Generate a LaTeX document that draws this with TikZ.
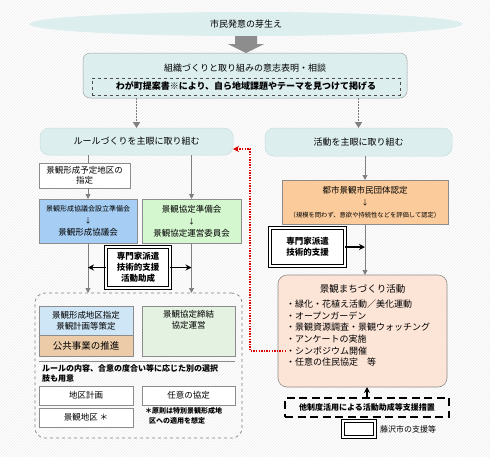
\documentclass[tikz,border=0pt]{standalone}
\usepackage{fontspec}
\setmainfont{Noto Sans CJK JP}
\usetikzlibrary{shapes.geometric,arrows.meta,patterns,calc}
\newcommand\fsz[2]{\fontsize{#1}{#2}\selectfont}
\definecolor{teal1}{HTML}{DCEEEE}
\definecolor{tealb}{HTML}{C9DEDE}
\definecolor{bgray}{HTML}{8C8C8C}
\definecolor{agray}{HTML}{808080}
\definecolor{blue1}{HTML}{A6CEF4}
\definecolor{green1}{HTML}{D4F7CF}
\definecolor{lblue}{HTML}{CFE6F7}
\definecolor{tan1}{HTML}{EBCBA8}
\definecolor{lgreen}{HTML}{E4F3E1}
\definecolor{orange1}{HTML}{FBCB9B}
\definecolor{peach}{HTML}{FCE4D6}
\begin{document}
\begin{tikzpicture}[x=1pt,y=-1pt,
  every node/.style={inner sep=0pt, outer sep=0pt},
  tealbox/.style={draw=tealb, fill=teal1, rounded corners=7pt, line width=0.5pt, align=center},
  plainbox/.style={draw=bgray, line width=0.6pt, fill=white, align=center},
  dblbox/.style={draw=black, double=white, double distance=1.3pt, line width=1.1pt, fill=white, align=center, font=\bfseries\fsz{8.5}{11}},
  garrow/.style={draw=agray, line width=0.9pt, -{Triangle[length=5pt,width=5pt]}},
  glink/.style={draw=agray, line width=0.9pt},
  darrow/.style={draw=agray, line width=1.6pt, dash pattern=on 1.6pt off 1.4pt, -{Triangle[length=6pt,width=7pt]}},
  barrow/.style={draw=black, line width=1.2pt, -{Stealth[length=6pt,width=6pt]}},
  redarrow/.style={draw=red!85!black, line width=1.5pt, dash pattern=on 1.5pt off 1.1pt, -{Stealth[length=6pt,width=6pt]}},
  txt/.style={align=left, anchor=west}
]
\useasboundingbox (0,0) rectangle (490,456);
\fill[white] (0,0) rectangle (490,456);
\fill[pattern=north east lines, pattern color=gray!14] (0,0) rectangle (490,456);

% top ellipse
\node[fill=teal1, ellipse, minimum width=433, minimum height=24, font=\fsz{9}{11}] (e) at (246,24) {市民発意の芽生え};
% big arrow
\fill[agray!90] ($(e.south)+(-11,0)$) -- ($(e.south)+(11,0)$) -- ($(e.south)+(11,8)$) -- ($(e.south)+(18,8)$) -- ($(e.south)+(0,17)$) -- ($(e.south)+(-18,8)$) -- ($(e.south)+(-11,8)$) -- cycle;

% box 2
\node[tealbox, draw=bgray!80, minimum width=324, minimum height=45] (b2) at (245,75.5) {};
\node[font=\fsz{9}{11}] (b2t) at (245,68) {組織づくりと取り組みの意志表明・相談};
\node[draw=black!70, dashed, line width=0.6pt, minimum width=308, minimum height=17, font=\bfseries\fsz{9}{11}] (b2d) at (246,86.5) {わが町提案書※により、自ら地域課題やテーマを見つけて掲げる};

% branches
\node[tealbox, rounded corners=9pt, minimum width=193, minimum height=27, font=\fsz{9}{11}] (lb) at (136.5,141.5) {ルールづくりを主眼に取り組む};
\node[tealbox, rounded corners=9pt, minimum width=187, minimum height=28, font=\fsz{9}{11}] (rb) at (358.5,142) {活動を主眼に取り組む};
\draw[darrow] (lb.north |- b2.south) -- (lb.north);
\draw[darrow] (rb.north |- b2.south) -- (rb.north);

% left column
\node[plainbox, minimum width=91, minimum height=25, font=\fsz{8.5}{10.5}] (sh) at (84.5,175.5) {景観形成予定地区の\\指定};
\node[plainbox, fill=blue1, minimum width=98, minimum height=44] (bl) at (88,221) {{\fsz{7}{9}景観形成協議会設立準備会}\\{\fsz{7}{9}↓}\\{\fsz{8.5}{11}景観形成協議会}};
\node[plainbox, fill=green1, minimum width=99, minimum height=44] (gr) at (191.5,221) {{\fsz{8.5}{11}景観協定準備会}\\{\fsz{7}{9}↓}\\{\fsz{8.5}{11}景観協定運営委員会}};
\draw[glink] (bl.north |- lb.south) -- (bl.north |- sh.north);
\draw[garrow] (bl.north |- sh.south) -- (bl.north);
\draw[garrow] (gr.north |- lb.south) -- (gr.north);

\node[dblbox, minimum width=64, minimum height=41] (s1) at (138,267.5) {専門家派遣\\技術的支援\\活動助成};

% group
\node[draw=agray, dashed, line width=0.7pt, rounded corners=10pt, minimum width=207, minimum height=145] (grp) at (138.5,365.5) {};
\draw[garrow] (bl.south) -- (bl.south |- grp.north);
\draw[garrow] (gr.south) -- (gr.south |- grp.north);
\draw[barrow] (s1.west) -- (s1.west -| bl.south);
\draw[barrow] (s1.east) -- (s1.east -| gr.south);

\node[plainbox, fill=lblue, minimum width=94, minimum height=29, font=\fsz{8.5}{11}] (kk) at (86,320.5) {景観形成地区指定\\景観計画等策定};
\node[plainbox, fill=tan1, minimum width=94, minimum height=21, font=\fsz{9.5}{11}] (ko) at (86,345.5) {公共事業の推進};
\node[plainbox, fill=lgreen, minimum width=93, minimum height=50] (kt) at (188.5,331) {};
\node[anchor=north, align=center, font=\fsz{8.5}{11.5}] (ktt) at ($(kt.north)+(0,4)$) {景観協定締結\\協定運営};
\coordinate (hl1) at (39,361);
\coordinate (hl2) at (235,361);
\draw[draw=bgray, line width=0.9pt] (hl1) -- (hl2);
\node[anchor=north west, align=left, font=\bfseries\fsz{8}{10}] (rule) at (42,365) {ルールの内容、合意の度合い等に応じた別の選択\\肢も用意};
\node[plainbox, minimum width=94, minimum height=19, font=\fsz{8.5}{11}] (ck) at (86,395.5) {地区計画};
\node[plainbox, minimum width=93, minimum height=19, font=\fsz{8.5}{11}] (nk) at (188.5,395.5) {任意の協定};
\node[plainbox, minimum width=94, minimum height=19, font=\fsz{8.5}{11}] (kc) at (86,417.5) {景観地区 ＊};
\node[anchor=north west, align=left, font=\bfseries\fsz{7}{10}] (note) at (145,407) {＊原則は特別景観形成地\\\hspace{0.6em}区への適用を想定};

% right column
\node[plainbox, fill=orange1, minimum width=166, minimum height=44] (or) at (365,202) {{\fsz{8.5}{11}都市景観市民団体認定}\\{\fsz{7}{9}↓}\\{\fsz{6.3}{9}（規模を問わず、意欲や持続性などを評価して認定）}};
\draw[garrow] (or.north |- rb.south) -- (or.north);
\node[dblbox, minimum width=75, minimum height=38] (s2) at (307.5,247) {専門家派遣\\技術的支援};
\node[draw=bgray, line width=0.6pt, fill=peach, rounded corners=9pt, minimum width=169, minimum height=112] (mz) at (362.5,331) {};
\draw[garrow] (or.south) -- (or.south |- mz.north);
\draw[barrow] (s2.east) -- (s2.east -| or.south);
\node[font=\fsz{9.5}{11}] (mzt) at (362.5,289) {景観まちづくり活動};
\node[txt, font=\fsz{9}{11}] (i1) at (286,304) {・緑化・花植え活動／美化運動};
\node[txt, font=\fsz{9}{11}] (i2) at (286,315.7) {・オープンガーデン};
\node[txt, font=\fsz{9}{11}] (i3) at (286,327.4) {・景観資源調査・景観ウォッチング};
\node[txt, font=\fsz{9}{11}] (i4) at (286,339.1) {・アンケートの実施};
\node[txt, font=\fsz{9}{11}] (i5) at (286,350.8) {・シンポジウム開催};
\node[txt, font=\fsz{9}{11}] (i6) at (286,362.5) {・任意の住民協定　等};

% red dotted feedback
\coordinate (r1) at (250,350.8);
\coordinate (r2) at (250,149);
\draw[redarrow] (i5.west) -- (r1) -- (r2) -- (r2 -| lb.east);

% support box
\node[draw=black, line width=1.7pt, dash pattern=on 8pt off 4.5pt, minimum width=164, minimum height=19, font=\bfseries\fsz{8}{10}] (sup) at (367,407.5) {他制度活用による活動助成等支援措置};
\draw[barrow, line width=1.1pt] (sup.north) -- (sup.north |- mz.south);

% legend
\node[draw=black, double=white, double distance=1.3pt, line width=1.1pt, fill=white, minimum width=32, minimum height=16] (leg) at (359,429) {};
\node[anchor=west, font=\fsz{8}{10}] (legt) at ($(leg.east)+(5,0)$) {藤沢市の支援等};
\end{tikzpicture}
\end{document}
